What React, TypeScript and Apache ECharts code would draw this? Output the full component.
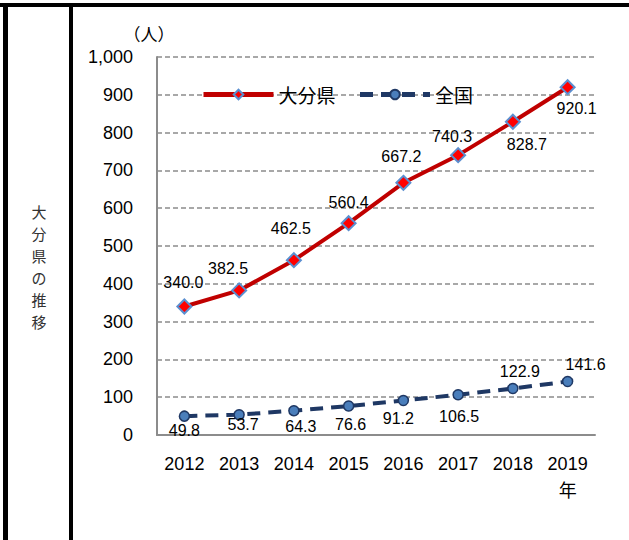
import React, { useEffect, useRef } from "react";
import * as echarts from "echarts";

const years = ["2012", "2013", "2014", "2015", "2016", "2017", "2018", "2019"];
const oitaValues = [340.0, 382.5, 462.5, 560.4, 667.2, 740.3, 828.7, 920.1];
const nationalValues = [49.8, 53.7, 64.3, 76.6, 91.2, 106.5, 122.9, 141.6];
const yTicks = { min: 0, max: 1000, interval: 100 };
const sideTitle = ["大", "分", "県", "の", "推", "移"];

const oitaLabelOffsets: number[][] = [
  [-1, -24], [-11, -22], [-3, -32], [0, -21], [-2, -26], [-6, -19], [14, 23], [9, 21],
];
const nationalLabelOffsets: number[][] = [
  [0, 14], [4, 10], [7, 16], [2, 18], [-5, 18], [1, 22], [7, -17], [18, -17],
];

const FONT = "'Liberation Sans', 'Noto Sans CJK JP', sans-serif";
const CJK = "'Noto Sans CJK JP', sans-serif";

export default function App() {
  const ref = useRef<HTMLDivElement>(null);
  useEffect(() => {
    if (!ref.current) return;
    const chart = echarts.init(ref.current, null, { renderer: "svg" });
    const fmt = (p: any) => Number(p.value).toFixed(1);
    chart.setOption({
      animation: false,
      backgroundColor: "#ffffff",
      grid: { left: 157, right: 34, top: 57, bottom: 105, containLabel: false },
      legend: {
        left: 196,
        top: 80,
        itemWidth: 70,
        itemHeight: 12,
        itemGap: 22,
        lineStyle: { width: 5 },
        textStyle: { fontFamily: CJK, fontSize: 19, color: "#000" },
        data: ["大分県", "全国"],
      },
      xAxis: {
        type: "category",
        data: years,
        boundaryGap: true,
        axisLine: { lineStyle: { color: "#8c8c8c", width: 2 } },
        axisTick: { inside: true, length: 5, lineStyle: { color: "#8c8c8c", width: 1.5 } },
        axisLabel: {
          margin: 15,
          fontFamily: FONT,
          fontSize: 18,
          color: "#000",
          lineHeight: 27,
          formatter: (v: string, i: number) => (i === years.length - 1 ? v + "\n年" : v),
        },
        splitLine: { show: false },
      },
      yAxis: {
        type: "value",
        min: yTicks.min,
        max: yTicks.max,
        interval: yTicks.interval,
        axisLine: { show: true, lineStyle: { color: "#8c8c8c", width: 2 } },
        axisTick: { show: false },
        axisLabel: {
          margin: 24,
          fontFamily: FONT,
          fontSize: 18,
          color: "#000",
          formatter: (v: number) => v.toLocaleString("en-US"),
        },
        splitLine: { show: true, lineStyle: { color: "#8c8c8c", width: 1.5, type: [5, 3] } },
      },
      series: [
        {
          name: "全国",
          type: "line",
          data: nationalValues.map((v, i) => ({ value: v, label: { offset: nationalLabelOffsets[i] } })),
          symbol: "circle",
          symbolSize: 10,
          lineStyle: { color: "#1f3864", width: 4, type: [13, 8] },
          itemStyle: { color: "#4a7ebb", borderColor: "#1f3864", borderWidth: 1.5 },
          label: {
            show: true,
            position: "inside",
            formatter: fmt,
            fontFamily: FONT,
            fontSize: 16,
            color: "#000",
          },
          z: 2,
        },
        {
          name: "大分県",
          type: "line",
          data: oitaValues.map((v, i) => ({ value: v, label: { offset: oitaLabelOffsets[i] } })),
          symbol: "diamond",
          symbolSize: 14,
          lineStyle: { color: "#c00000", width: 4 },
          itemStyle: { color: "#ff0000", borderColor: "#5b8fd0", borderWidth: 2 },
          label: {
            show: true,
            position: "inside",
            formatter: fmt,
            fontFamily: FONT,
            fontSize: 16,
            color: "#000",
          },
          z: 3,
        },
      ],
      graphic: [
        { type: "rect", shape: { x: 0, y: 3, width: 629, height: 4 }, style: { fill: "#000" }, silent: true },
        { type: "rect", shape: { x: 3, y: 3, width: 5, height: 537 }, style: { fill: "#000" }, silent: true },
        { type: "rect", shape: { x: 69, y: 3, width: 4, height: 537 }, style: { fill: "#000" }, silent: true },
        ...sideTitle.map((ch, i) => ({
          type: "text",
          x: 39,
          y: 211 + i * 22,
          style: {
            text: ch,
            fontFamily: CJK,
            fontSize: 15,
            lineHeight: 18,
            fill: "#333",
            align: "center",
            verticalAlign: "middle",
          },
        })),
        {
          type: "text",
          x: 149,
          y: 33,
          style: {
            text: "（人）",
            fontFamily: CJK,
            fontSize: 17,
            fill: "#000",
            align: "center",
            verticalAlign: "middle",
          },
        },
      ],
    });
    return () => chart.dispose();
  }, []);
  return <div ref={ref} style={{ position: "absolute", left: 0, top: 0, width: 629, height: 540 }} />;
}
